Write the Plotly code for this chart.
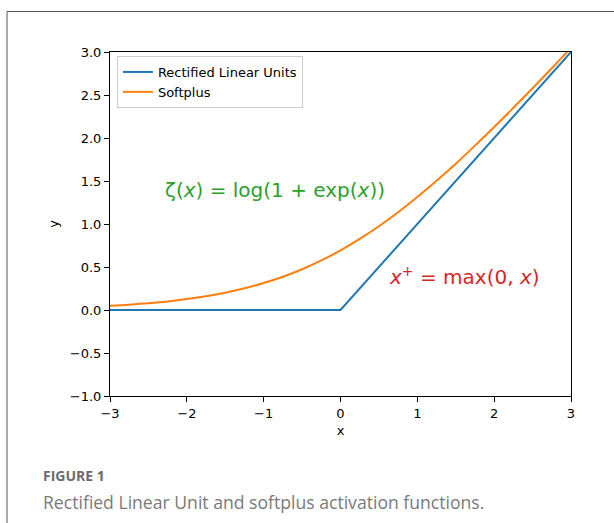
import plotly.graph_objects as go

# Data
x_relu = [-3, 0, 3]
y_relu = [0.0, 0.0, 3.0]

x_soft = [-3.0, -2.75, -2.5, -2.25, -2.0, -1.75, -1.5, -1.25, -1.0, -0.75, -0.5, -0.25,
          0.0, 0.25, 0.5, 0.75, 1.0, 1.25, 1.5, 1.75, 2.0, 2.25, 2.5, 2.75, 3.0]
y_soft = [0.049, 0.062, 0.079, 0.100, 0.127, 0.161, 0.201, 0.252, 0.313, 0.386, 0.474, 0.576,
          0.693, 0.826, 0.974, 1.136, 1.313, 1.502, 1.701, 1.911, 2.127, 2.351, 2.579, 2.811, 3.049]

series_names = ["Rectified Linear Units", "Softplus"]
x_ticks = [-3, -2, -1, 0, 1, 2, 3]
x_tick_text = ["\u22123", "\u22122", "\u22121", "0", "1", "2", "3"]
y_ticks = [-1.0, -0.5, 0.0, 0.5, 1.0, 1.5, 2.0, 2.5, 3.0]
y_tick_text = ["\u22121.0", "\u22120.5", "0.0", "0.5", "1.0", "1.5", "2.0", "2.5", "3.0"]

W, H = 614, 523
L, R, T, B = 110, 43, 52, 127
pw, ph = W - L - R, H - T - B

def px(xp):
    return (xp - L) / pw

def py(yp):
    return 1 - (yp - T) / ph

fig = go.Figure()
fig.add_trace(go.Scatter(x=x_relu, y=y_relu, mode="lines", name=series_names[0],
                         line=dict(color="#1f77b4", width=2)))
fig.add_trace(go.Scatter(x=x_soft, y=y_soft, mode="lines", name=series_names[1],
                         line=dict(color="#ff7f0e", width=2, shape="spline")))

axis_common = dict(showgrid=False, zeroline=False, showline=True, linecolor="black",
                   linewidth=1, mirror=True, ticks="outside", ticklen=5, tickcolor="black",
                   tickfont=dict(family="DejaVu Sans", size=13, color="black"))
fig.update_xaxes(range=[-3, 3], tickvals=x_ticks, ticktext=x_tick_text,
                 title=dict(text="x", font=dict(family="DejaVu Sans", size=13, color="black"), standoff=6),
                 **axis_common)
fig.update_yaxes(range=[-1, 3], tickvals=y_ticks, ticktext=y_tick_text,
                 title=dict(text="y", font=dict(family="DejaVu Sans", size=13, color="black"), standoff=8),
                 **axis_common)

fig.add_annotation(x=-0.85, y=1.40, xref="x", yref="y", showarrow=False,
                   text="\u03b6(<i>x</i>) = log(1 + exp(<i>x</i>))",
                   font=dict(family="DejaVu Sans", size=20, color="#2ca02c"))
fig.add_annotation(x=1.62, y=0.40, xref="x", yref="y", showarrow=False,
                   text="<i>x</i><sup>+</sup> = max(0, <i>x</i>)",
                   font=dict(family="DejaVu Sans", size=20, color="#d62728"))

# caption
fig.add_annotation(x=px(41), y=py(475), xref="paper", yref="paper", showarrow=False,
                   xanchor="left", yanchor="middle", text="<b>FIGURE 1</b>",
                   font=dict(family="Open Sans", size=14, color="#6b6b6b"))
fig.add_annotation(x=px(41), y=py(502), xref="paper", yref="paper", showarrow=False,
                   xanchor="left", yanchor="middle",
                   text="Rectified Linear Unit and softplus activation functions.",
                   font=dict(family="Open Sans", size=17.6, color="#7a7a7a"))

# outer frame
fig.add_shape(type="rect", xref="paper", yref="paper",
              x0=px(7), x1=px(640), y0=py(560), y1=py(11.5),
              line=dict(color="#555555", width=1), fillcolor="rgba(0,0,0,0)", layer="below")

fig.update_layout(
    width=W, height=H,
    margin=dict(l=L, r=R, t=T, b=B),
    paper_bgcolor="white", plot_bgcolor="white",
    showlegend=True,
    legend=dict(x=0.015, y=py(56), xanchor="left", yanchor="top",
                bgcolor="rgba(255,255,255,0.8)", bordercolor="#cccccc", borderwidth=1,
                font=dict(family="DejaVu Sans", size=13, color="black"),
                itemwidth=30, tracegroupgap=0),
)

fig.write_html("out.html")
